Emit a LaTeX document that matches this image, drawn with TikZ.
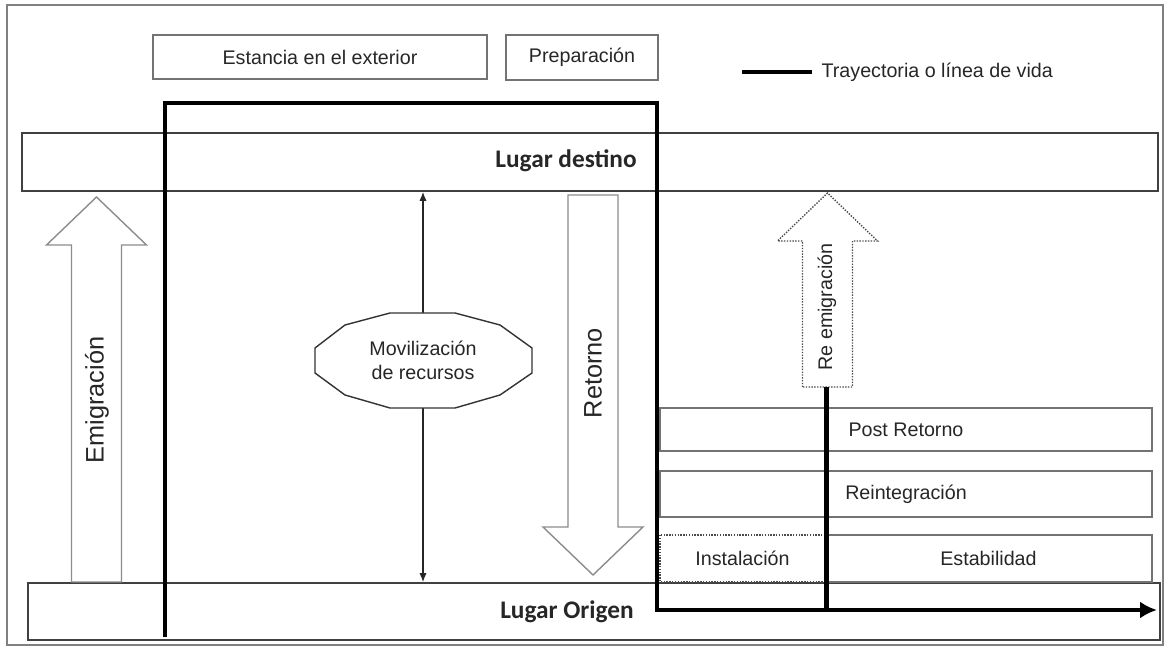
\documentclass[tikz,border=0pt]{standalone}
\usepackage{fontspec}
\setmainfont{Liberation Sans}
\newfontfamily\boldfont{Carlito}
\usepackage{tikz}
\usetikzlibrary{calc,arrows.meta}

\begin{document}
\begin{tikzpicture}[x=0.025cm,y=-0.025cm,>={Latex[length=0.22cm,width=0.18cm]},
		box/.style={draw=black!75,line width=1pt},
		softbox/.style={draw=black!55,line width=1pt},
		dotbox/.style={draw=black!70,line width=1pt,densely dotted},
		txt/.style={font=\fontsize{14}{17.5}\selectfont,text=black!85,align=center},
		vtxt/.style={font=\fontsize{18}{20}\selectfont,text=black!85,rotate=90},
		place/.style={font=\boldfont\bfseries\fontsize{18}{20}\selectfont,text=black!85},
		traj/.style={line width=3pt,line join=miter}]
	
	\useasboundingbox (0,0) rectangle (1166,648);
	
	% Outer frame
	\draw[black!50,line width=1.3pt] (7,5) rectangle (1163,645);
	
	% Phases at the top
	\draw[softbox] (153,35) rectangle (487,79) node[midway,txt] (est) {Estancia en el exterior};
	\draw[softbox] (506,35) rectangle (658,80) node[midway,txt] (prep) {Preparación};
	
	% Places
	\draw[box] (22,133) rectangle (1158,191);
	\node[place] (dest) at (566,161) {Lugar destino};
	\draw[box] (28,583) rectangle (1160,640);
	\node[place] (orig) at (567,612) {Lugar Origen};
	
	% Phases after the return
	\draw[softbox] (660,408) rectangle (1152,451) node[midway,txt] (post) {Post Retorno};
	\draw[softbox] (660,471) rectangle (1152,517) node[midway,txt] (reint) {Reintegración};
	\draw[dotbox] (660,535) rectangle (825,582) node[midway,txt] (inst) {Instalación};
	\draw[softbox] (825,535) rectangle (1152,582) node[midway,txt] (estab) {Estabilidad};
	
	% A wide outlined arrow: centre x #1, tail y #2, tip y #3, style #4
	\newcommand{\fatarrow}[4]{%
		\pgfmathsetmacro\headbase{#3+48*sign(#2-#3)}
		\draw[#4] (#1-25,#2) -- (#1-25,\headbase) -- (#1-50,\headbase) -- (#1,#3)
		-- (#1+50,\headbase) -- (#1+25,\headbase) -- (#1+25,#2) -- cycle;
	}
	
	\fatarrow{96.5}{582}{197}{draw=black!45,line width=1pt,fill=white}
	\node[vtxt] (emig) at (97,400) {Emigración};
	
	\fatarrow{593}{195}{575}{draw=black!45,line width=1pt,fill=white}
	\node[vtxt] (ret) at (593,373) {Retorno};
	
	\fatarrow{827.5}{387}{193}{draw=black!70,line width=1pt,densely dotted,fill=white}
	\node[txt,rotate=90] (reemig) at (827,307) {Re emigración};
	
	% Mobilisation of resources between both places
	\coordinate (mv) at (423,360.5);
	\draw[<->,black!85,line width=0.8pt] (mv |- 0,192) -- (mv |- 0,582);
	\draw[black!80,line width=1pt,fill=white]
	(315,348) -- (315,373) -- (345,395) -- (390,408) -- (455,408) -- (500,395)
	-- (532,373) -- (532,348) -- (500,325) -- (455,313) -- (390,313) -- (345,325) -- cycle;
	\node[txt] (mov) at (mv) {Movilización\\de recursos};
	
	% Life line
	\coordinate (t0) at (165,637);
	\coordinate (t1) at (657,103);
	\coordinate (t2) at (657,610);
	\coordinate (t3) at (1157,610);
	\coordinate (rb) at (826.5,387);
	\draw[traj,-{Latex[length=0.42cm,width=0.42cm]}] (t0) |- (t1) -- (t2) -- (t3);
	\draw[traj] (rb) -- (rb |- t2);
	
	% Legend
	\draw[traj] (742,72) -- (812,72) node[txt,anchor=west,xshift=2pt] (leg) {Trayectoria o línea de vida};
	
\end{tikzpicture}
\end{document}
